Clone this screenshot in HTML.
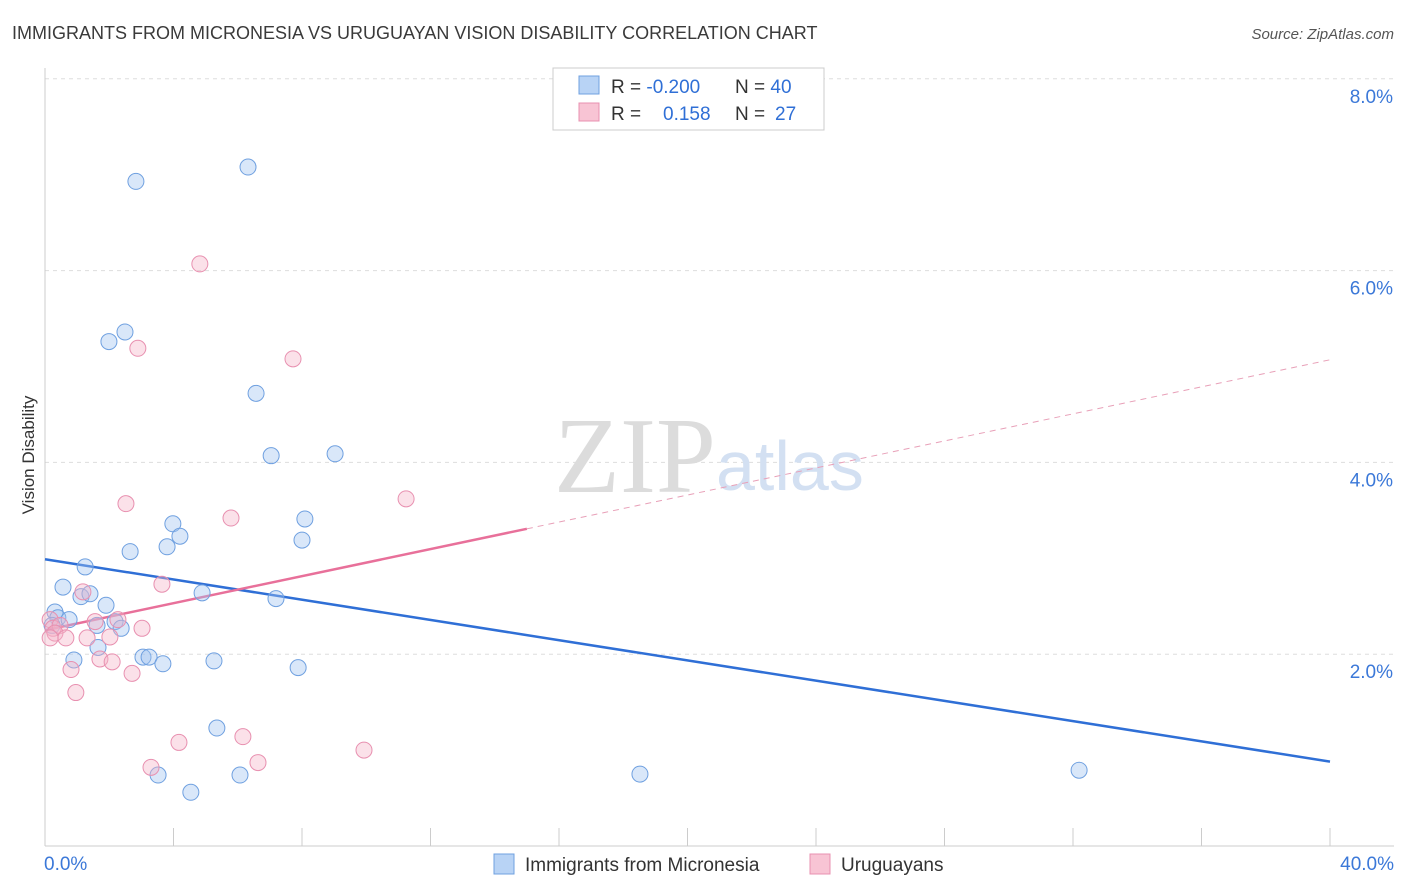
<!DOCTYPE html>
<html><head><meta charset="utf-8"><style>
body{margin:0;background:#fff;font-family:"Liberation Sans",sans-serif;}
svg{display:block}
</style></head><body>
<svg id="chart" width="1406" height="892">
<text x="12" y="39" font-size="18" fill="#3a3a3a">IMMIGRANTS FROM MICRONESIA VS URUGUAYAN VISION DISABILITY CORRELATION CHART</text>
<text x="1394" y="39" font-size="15" fill="#555" font-style="italic" text-anchor="end">Source: ZipAtlas.com</text>
<text x="34" y="455" font-size="17" fill="#333" transform="rotate(-90 34 455)" text-anchor="middle">Vision Disability</text>
<g id="grid"></g>
<text x="716" y="492" font-size="108" fill="#dcdcdc" font-family="Liberation Serif" text-anchor="end">ZIP</text>
<text x="716" y="490" font-size="70" fill="#d3e0f2">atlas</text>
<g id="lines"></g>
<g id="points"></g>
<g>
<rect x="553" y="68" width="271" height="62" fill="#fff" stroke="#ccc"/>
<rect x="579" y="76" width="20" height="18" fill="#b8d3f5" stroke="#6fa0e0"/>
<rect x="579" y="103" width="20" height="18" fill="#f8c4d4" stroke="#e890b0"/>
<text x="611" y="93" font-size="19" fill="#333">R = <tspan fill="#2f6fd6">-0.200</tspan><tspan x="735">N = </tspan><tspan fill="#2f6fd6">40</tspan></text>
<text x="611" y="120" font-size="19" fill="#333">R = <tspan x="663" fill="#2f6fd6">0.158</tspan><tspan x="735">N = </tspan><tspan x="775" fill="#2f6fd6">27</tspan></text>
</g>
<g>
<rect x="494" y="854" width="20" height="20" fill="#b8d3f5" stroke="#6fa0e0"/>
<text x="525" y="871" font-size="19" fill="#333">Immigrants from Micronesia</text>
<rect x="810" y="854" width="20" height="20" fill="#f8c4d4" stroke="#e890b0"/>
<text x="841" y="871" font-size="19" fill="#333">Uruguayans</text>
</g>
</svg>
<script>
const xTicks=[0,4,8,12,16,20,24,28,32,36,40];
const yTicks=[2,4,6,8];
const blueX=[2.83,6.32,2.49,1.99,6.57,7.04,9.03,3.98,4.20,3.80,8.09,8.00,2.65,1.25,0.56,1.12,1.40,1.90,0.31,0.40,0.75,0.22,2.18,2.37,1.62,4.89,7.19,1.65,3.05,3.24,3.67,0.90,5.26,7.88,5.35,3.52,4.54,6.07,18.52,32.19];
const blueY=[6.93,7.08,5.36,5.26,4.72,4.07,4.09,3.36,3.23,3.12,3.41,3.19,3.07,2.91,2.70,2.60,2.63,2.51,2.44,2.38,2.36,2.30,2.34,2.27,2.30,2.64,2.58,2.07,1.97,1.97,1.90,1.94,1.93,1.86,1.23,0.74,0.56,0.74,0.75,0.79];
const pinkX=[4.82,2.89,7.72,2.52,11.24,5.79,3.64,0.16,0.25,0.47,0.31,0.16,0.65,1.18,1.56,2.27,3.02,2.02,1.31,1.71,2.09,0.81,2.71,0.96,4.17,6.16,3.30,6.63,9.93];
const pinkY=[6.07,5.19,5.08,3.57,3.62,3.42,2.73,2.36,2.27,2.30,2.22,2.17,2.17,2.65,2.34,2.36,2.27,2.18,2.17,1.95,1.92,1.84,1.80,1.60,1.08,1.14,0.82,0.87,1.00];
const blueTrend=[2.99,0.88];
const pinkTrend=[2.25,5.07];
const pinkSolidEnd=15;
const xs=v=>45+v*32.125, ys=v=>846-v*95.9;
const NS="http://www.w3.org/2000/svg";
function mk(t,a,p){const e=document.createElementNS(NS,t);for(const k in a)e.setAttribute(k,a[k]);p.appendChild(e);return e;}
const grid=document.getElementById('grid');
yTicks.forEach(v=>{
 const l=mk('line',{x1:45,x2:1394,y1:ys(v),y2:ys(v),stroke:'#ddd','stroke-dasharray':'4,4'},grid);
 
 
 const t=mk('text',{x:1393,y:ys(v)+24,'font-size':19,fill:'#3b78d8','text-anchor':'end'},grid);t.textContent=v.toFixed(1)+'%';
 
 
});
const ax=mk('line',{x1:45,x2:45,y1:68,y2:846,stroke:'#ccc'},grid);


const bx=mk('line',{x1:45,x2:1394,y1:846,y2:846,stroke:'#ccc'},grid);


xTicks.forEach(v=>{
 const l=mk('line',{x1:xs(v),x2:xs(v),y1:828,y2:846,stroke:'#ccc'},grid);
 
 
});
[[0,'start'],[40,'end']].forEach(([v,a])=>{
 const t=mk('text',{x:v==0?44:1394,y:870,'font-size':19,fill:'#3b78d8','text-anchor':a},grid);t.textContent=v.toFixed(1)+'%';
 
 
});
const pts=document.getElementById('points');
blueX.forEach((v,i)=>{
 const c=mk('circle',{cx:xs(v),cy:ys(blueY[i]),r:8,fill:'rgba(160,196,240,0.4)',stroke:'#6fa0e0','stroke-width':1},pts);
 
 
});
pinkX.forEach((v,i)=>{
 const c=mk('circle',{cx:xs(v),cy:ys(pinkY[i]),r:8,fill:'rgba(245,180,200,0.4)',stroke:'#e890b0','stroke-width':1},pts);
 
 
});
const ln=document.getElementById('lines');
const b=mk('line',{x1:xs(0),y1:ys(blueTrend[0]),x2:xs(40),y2:ys(blueTrend[1]),stroke:'#2f6fd6','stroke-width':2.5},ln);


const pAt=v=>pinkTrend[0]+(pinkTrend[1]-pinkTrend[0])*v/40;
const p1=mk('line',{x1:xs(0),y1:ys(pAt(0)),x2:xs(pinkSolidEnd),y2:ys(pAt(pinkSolidEnd)),stroke:'#e8709a','stroke-width':2.5},ln);


const p2=mk('line',{x1:xs(pinkSolidEnd),y1:ys(pAt(pinkSolidEnd)),x2:xs(40),y2:ys(pAt(40)),stroke:'#e8a0b8','stroke-width':1,'stroke-dasharray':'6,5'},ln);


</script>
</body></html>
